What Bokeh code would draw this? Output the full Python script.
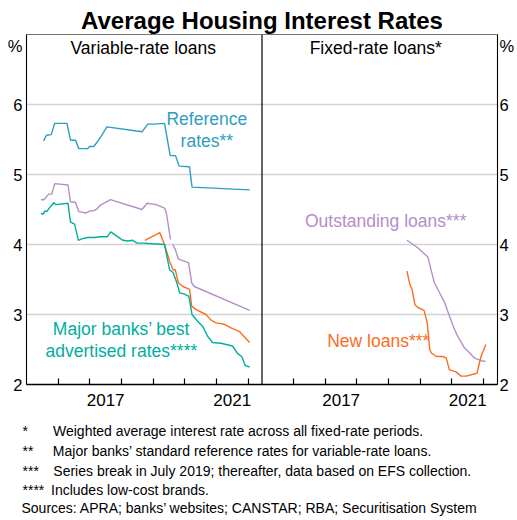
from bokeh.plotting import figure
from bokeh.models import Range1d, LinearAxis, FixedTicker, Span, Label, Title
from bokeh.embed import file_html
from bokeh.resources import INLINE

# ---------------- data (decimal years, per cent) ----------------
# Variable-rate loans panel
ref_x = [2015.54, 2015.63, 2015.78, 2015.89, 2016.28, 2016.39, 2016.55, 2016.65, 2016.93,
         2016.99, 2017.12, 2017.23, 2017.39, 2017.54, 2018.65, 2018.83, 2019.02, 2019.36,
         2019.54, 2019.71, 2019.82, 2020.15, 2020.23, 2022.05]
ref_y = [5.48, 5.56, 5.57, 5.73, 5.73, 5.49, 5.49, 5.37, 5.37,
         5.40, 5.40, 5.46, 5.57, 5.68, 5.61, 5.72, 5.72, 5.73,
         5.27, 5.27, 5.12, 5.11, 4.82, 4.78]

var_out_x1 = [2015.46, 2015.55, 2015.70, 2015.80, 2015.89, 2016.31, 2016.39, 2016.55, 2016.65,
              2016.89, 2017.00, 2017.12, 2017.23, 2017.33, 2017.65, 2018.65, 2018.81, 2019.10,
              2019.36, 2019.42, 2019.55]
var_out_y1 = [4.64, 4.64, 4.72, 4.72, 4.87, 4.85, 4.61, 4.60, 4.47,
              4.45, 4.48, 4.48, 4.51, 4.56, 4.64, 4.50, 4.59, 4.57,
              4.52, 4.45, 4.07]
var_out_x2 = [2019.62, 2019.70, 2019.80, 2020.12, 2020.22, 2020.30, 2022.05]
var_out_y2 = [4.00, 3.93, 3.79, 3.74, 3.45, 3.40, 3.06]

best_x = [2015.46, 2015.52, 2015.58, 2015.64, 2015.72, 2015.80, 2015.86, 2015.92, 2016.31,
          2016.39, 2016.52, 2016.64, 2016.75, 2016.93, 2017.14, 2017.33, 2017.55, 2017.66,
          2017.85, 2018.05, 2018.20, 2018.35, 2018.50, 2018.66, 2019.00, 2019.36, 2019.52,
          2019.63, 2019.73, 2019.84, 2019.99, 2020.13, 2020.23, 2020.41, 2020.57, 2020.72,
          2020.88, 2021.14, 2021.51, 2021.67, 2021.80, 2021.91, 2022.05]
best_y = [4.45, 4.43, 4.48, 4.47, 4.52, 4.56, 4.60, 4.57, 4.59,
          4.32, 4.29, 4.06, 4.08, 4.10, 4.10, 4.11, 4.11, 4.18,
          4.12, 4.06, 4.05, 4.06, 4.02, 4.02, 4.01, 4.00, 3.64,
          3.60, 3.48, 3.31, 3.29, 3.26, 3.00, 2.90, 2.83, 2.69,
          2.60, 2.59, 2.55, 2.44, 2.40, 2.27, 2.25]

var_new_x = [2018.74, 2019.21, 2019.36, 2019.52, 2019.63, 2019.70, 2019.80, 2019.94, 2020.10,
             2020.15, 2020.22, 2020.36, 2020.67, 2020.83, 2020.99, 2021.25, 2021.46, 2021.72,
             2022.05]
var_new_y = [4.06, 4.17, 4.00, 3.76, 3.64, 3.64, 3.45, 3.40, 3.37,
             3.36, 3.12, 3.07, 3.00, 2.92, 2.88, 2.86, 2.81, 2.76,
             2.60]

# Fixed-rate loans panel
fix_out_x = [2019.58, 2019.93, 2020.24, 2020.35, 2020.45, 2020.61, 2020.77, 2020.92, 2021.08,
             2021.18, 2021.40, 2021.50, 2021.71, 2021.76, 2021.92, 2022.07]
fix_out_y = [4.06, 3.95, 3.82, 3.62, 3.45, 3.31, 3.17, 2.98, 2.79,
             2.69, 2.52, 2.48, 2.38, 2.37, 2.34, 2.33]

fix_new_x = [2019.58, 2019.67, 2019.74, 2019.83, 2019.93, 2020.12, 2020.22, 2020.30, 2020.35,
             2020.51, 2020.71, 2020.82, 2020.92, 2021.13, 2021.29, 2021.45, 2021.79, 2021.92,
             2022.07]
fix_new_y = [3.62, 3.43, 3.36, 3.14, 3.10, 3.06, 2.88, 2.50, 2.45,
             2.40, 2.40, 2.38, 2.21, 2.18, 2.12, 2.12, 2.16, 2.40,
             2.57]

year_bounds = [2016, 2017, 2018, 2019, 2020, 2021, 2022]
label_years = [2017, 2021]
y_ticks = [2, 3, 4, 5, 6]
grid_ticks = [3, 4, 5, 6]

title_text = "Average Housing Interest Rates"
footnote_marks = ["*", "**", "***", "****"]
footnote_texts = ["Weighted average interest rate across all fixed-rate periods.",
                  "Major banks\u2019 standard reference rates for variable-rate loans.",
                  "Series break in July 2019; thereafter, data based on EFS collection.",
                  "Includes low-cost brands."]
sources = "Sources: APRA; banks\u2019 websites; CANSTAR; RBA; Securitisation System"

# ---------------- styling / layout ----------------
C_REF = "#2e9dc2"
C_BEST = "#00ae9e"
C_OUT = "#b68dc9"
C_NEW = "#fa6e1e"
FONT = "Liberation Sans"

W, H = 517, 520
X0, PW = 2015.0, 7.44
FL, FR, FT, FB = 26, 500, 34, 384   # frame edges, page pixels
PCT = 6.84                          # where the "%" unit marker sits on the value axis

p = figure(width=W, height=H, output_backend="svg", toolbar_location=None,
           x_range=Range1d(X0, X0 + 2 * PW), y_range=Range1d(2, 7),
           min_border_left=FL, min_border_right=W - FR,
           min_border_top=FT, min_border_bottom=H - FB)
p.extra_x_ranges = {"fixed": Range1d(X0 - PW, X0 + PW)}
p.background_fill_color = "white"
p.border_fill_color = "white"
p.outline_line_color = "#777777"
p.outline_line_width = 1

# title
p.title.text = title_text
p.title.align = "center"
p.title.text_font = FONT
p.title.text_font_size = "24px"
p.title.text_font_style = "bold"
p.title.text_color = "black"
p.title.standoff = 1

p.xgrid.grid_line_color = None
p.ygrid.ticker = FixedTicker(ticks=grid_ticks)
p.ygrid.grid_line_color = "#d2d2d2"
p.ygrid.grid_line_width = 1.6

mids = [y + 0.5 for y in label_years]
mids_all = mids + [m + PW for m in mids]
minor_all = [float(y) for y in year_bounds] + [y + PW for y in year_bounds]
overrides = {}
for y in label_years:
    overrides[y + 0.5] = str(y)
    overrides[y + 0.5 + PW] = str(y)
xa = p.xaxis[0]
xa.ticker = FixedTicker(ticks=mids_all, minor_ticks=minor_all)
xa.major_label_overrides = overrides
xa.major_tick_line_color = None
xa.major_tick_in = 0
xa.major_tick_out = 0
xa.minor_tick_in = 6
xa.minor_tick_out = 0
xa.minor_tick_line_color = "black"
xa.minor_tick_line_width = 1.2
xa.axis_line_color = "black"
xa.axis_line_width = 1.3
xa.major_label_text_font = FONT
xa.major_label_text_font_size = "17px"
xa.major_label_text_color = "black"
xa.major_label_standoff = 9

y_overrides = {v: str(v) for v in y_ticks}
y_overrides[PCT] = "%"


def style_y(ax, standoff):
    ax.ticker = FixedTicker(ticks=y_ticks + [PCT])
    ax.major_label_overrides = y_overrides
    ax.major_tick_line_color = None
    ax.minor_tick_line_color = None
    ax.major_tick_in = 0
    ax.major_tick_out = 0
    ax.minor_tick_in = 0
    ax.minor_tick_out = 0
    ax.axis_line_color = "black"
    ax.axis_line_width = 1.1
    ax.major_label_text_font = FONT
    ax.major_label_text_font_size = "16.5px"
    ax.major_label_text_color = "black"
    ax.major_label_standoff = standoff

style_y(p.yaxis[0], 4)
ry = LinearAxis()
style_y(ry, 2)
p.add_layout(ry, "right")

p.add_layout(Span(location=X0 + PW, dimension="height", line_color="black", line_width=1.2))

LW = 1.4
p.line(ref_x, ref_y, line_color=C_REF, line_width=LW)
p.line(var_out_x1, var_out_y1, line_color=C_OUT, line_width=LW)
p.line(var_out_x2, var_out_y2, line_color=C_OUT, line_width=LW)
p.line(var_new_x, var_new_y, line_color=C_NEW, line_width=LW)
p.line(best_x, best_y, line_color=C_BEST, line_width=LW)
p.line(fix_out_x, fix_out_y, line_color=C_OUT, line_width=LW, x_range_name="fixed")
p.line(fix_new_x, fix_new_y, line_color=C_NEW, line_width=LW, x_range_name="fixed")

PXY = (FR - FL) / (2 * PW)
PYU = (FB - FT) / 5.0

def fx(px):
    return X0 + (px - FL) / PXY

def fy(py):
    return 2 + (FB - py) / PYU

def label(text, px, py, size, color="black"):
    p.add_layout(Label(x=fx(px), y=fy(py), text=text, text_font=FONT,
                       text_font_size=size, text_color=color, text_align="center",
                       text_baseline="middle"))

label("Variable-rate loans", 143.5, 47, "17.5px")
label("Fixed-rate loans*", 377.5, 47, "17.5px")
label("Reference", 207.5, 118, "17.5px", C_REF)
label("rates**", 207.5, 140, "17.5px", C_REF)
label("Major banks\u2019 best", 121.5, 328, "17.5px", C_BEST)
label("advertised rates****", 121.5, 350, "17.5px", C_BEST)
label("Outstanding loans***", 387.5, 220, "17.5px", C_OUT)
label("New loans***", 380, 340, "17.5px", C_NEW)

# footnotes as stacked titles below the axis (a thin spacer first)
NB, TH = "\u00a0", "\u2009"
p.add_layout(Title(text=NB, text_font=FONT, text_font_size="1px", standoff=8,
                   text_color="white"), "below")
gaps = [NB * 5 + TH * 2, NB * 5, NB * 3 + TH, NB + TH]
standoffs = [2, 2, 2, 0]
for mark, gap, txt, so in zip(footnote_marks, gaps, footnote_texts, standoffs):
    p.add_layout(Title(text=mark + gap + txt, align="left", offset=-4, standoff=so,
                       text_font=FONT, text_font_size="14px", text_font_style="normal",
                       text_color="black"), "below")
p.add_layout(Title(text=sources, align="left", offset=-5, standoff=0,
                   text_font=FONT, text_font_size="14px", text_font_style="normal",
                   text_color="black"), "below")

open("out.html", "w").write(file_html(p, INLINE))
